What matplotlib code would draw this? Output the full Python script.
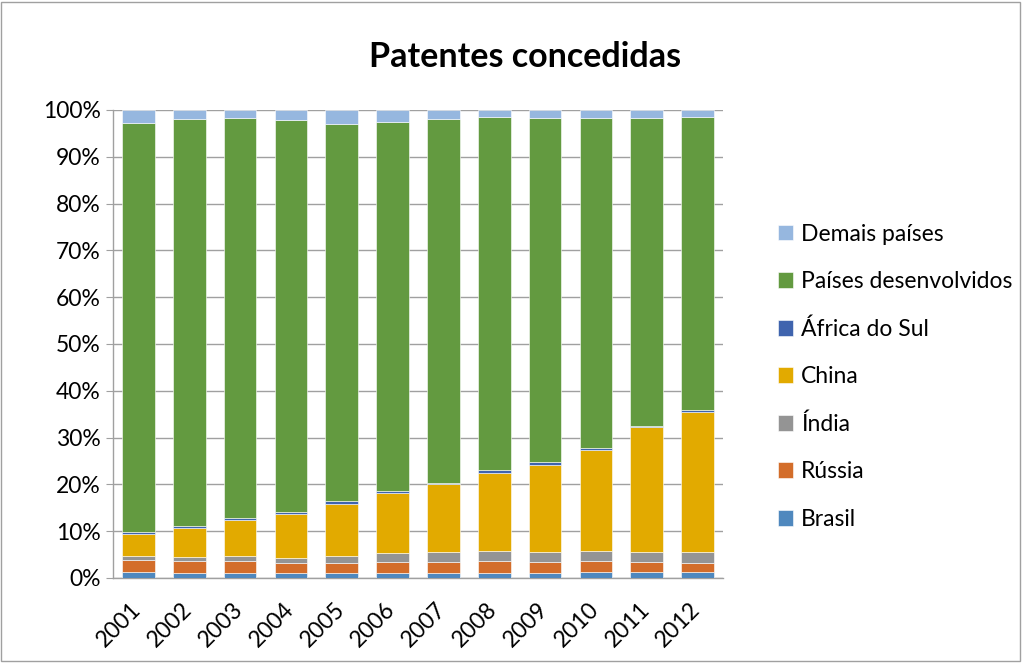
import matplotlib
matplotlib.use("Agg")
import matplotlib.pyplot as plt
import matplotlib.transforms as mtransforms
import numpy as np
from matplotlib.ticker import FuncFormatter, MultipleLocator
from matplotlib.patches import Rectangle

plt.rcParams['font.family'] = ['Lato', 'DejaVu Sans']

years = ['2001', '2002', '2003', '2004', '2005', '2006', '2007', '2008', '2009', '2010', '2011', '2012']
brasil = [1.2, 1.15, 1.1, 1.1, 1.1, 1.1, 1.15, 1.15, 1.15, 1.3, 1.3, 1.3]
russia = [2.6, 2.4, 2.55, 2.1, 2.1, 2.35, 2.35, 2.45, 2.35, 2.3, 2.15, 2.0]
india = [0.8, 0.9, 0.95, 1.15, 1.5, 1.85, 2.05, 2.15, 2.05, 2.2, 2.2, 2.15]
china = [4.85, 6.2, 7.9, 9.25, 11.2, 12.9, 14.45, 16.8, 18.65, 21.5, 26.55, 30.05]
africa = [0.45, 0.5, 0.4, 0.5, 0.5, 0.4, 0.3, 0.5, 0.5, 0.4, 0.3, 0.4]
desenvolvidos = [87.3, 86.9, 85.3, 83.8, 80.7, 78.8, 77.8, 75.4, 73.5, 70.6, 65.8, 62.7]
demais = [2.85, 1.9, 1.8, 2.1, 2.9, 2.6, 1.9, 1.6, 1.8, 1.7, 1.7, 1.4]

series = [
    ('Brasil', brasil, '#4F88BE'),
    ('Rússia', russia, '#D36D2A'),
    ('Índia', india, '#949494'),
    ('China', china, '#E2AA00'),
    ('África do Sul', africa, '#3F64AE'),
    ('Países desenvolvidos', desenvolvidos, '#639A40'),
    ('Demais países', demais, '#96B7DF'),
]

fig = plt.figure(figsize=(10.25, 6.67), dpi=100)
ax = fig.add_axes([113/1025, 1-578/667, (723-113)/1025, (578-110)/667])

x = np.arange(len(years))
totals = np.sum([np.array(s[1]) for s in series], axis=0)
bottom = np.zeros(len(years))
handles = []
for name, vals, col in series:
    v = np.array(vals) / totals * 100
    b = ax.bar(x, v, 0.64, bottom=bottom, color=col, edgecolor='white', linewidth=0.4, label=name, zorder=3)
    handles.append(b)
    bottom += v

ax.set_xlim(-0.5, len(years) - 0.5)
ax.set_ylim(0, 100)
ax.yaxis.set_major_locator(MultipleLocator(10))
ax.yaxis.set_major_formatter(FuncFormatter(lambda v, p: f'{int(round(v))}%'))
ax.grid(axis='y', color='#A0A0A0', linewidth=1.0, zorder=0)
ax.set_axisbelow(True)
for s in ['top', 'right']:
    ax.spines[s].set_visible(False)
for s in ['left', 'bottom']:
    ax.spines[s].set_color('#A0A0A0')
    ax.spines[s].set_linewidth(1.0)
ax.tick_params(axis='y', length=5, color='#A0A0A0', labelsize=16.5, pad=4)
ax.tick_params(axis='x', length=0, labelsize=16.5, pad=6)
ax.set_xticks(x)
ax.set_xticklabels(years, rotation=45, ha='right', va='top', rotation_mode='anchor')
offset = mtransforms.ScaledTranslation(-8/100, -12/100, fig.dpi_scale_trans)
for lbl in ax.get_xticklabels():
    lbl.set_transform(lbl.get_transform() + offset)

fig.text(525/1025, 1-57/667, 'Patentes concedidas', ha='center', va='center', fontsize=24.5, fontweight='bold')

leg = fig.legend(handles[::-1], [s[0] for s in series][::-1], loc='upper left',
                 bbox_to_anchor=(757/1025, 1-203/667), frameon=False, fontsize=16.5,
                 handlelength=0.68, handleheight=0.68, handletextpad=0.35, labelspacing=1.15)

fig.patches.append(Rectangle((0.001, 1-661/667), 1019/1025, 659/667, transform=fig.transFigure,
                             fill=False, edgecolor='#A0A0A0', linewidth=1.0))

fig.savefig('out.png', dpi=100)
